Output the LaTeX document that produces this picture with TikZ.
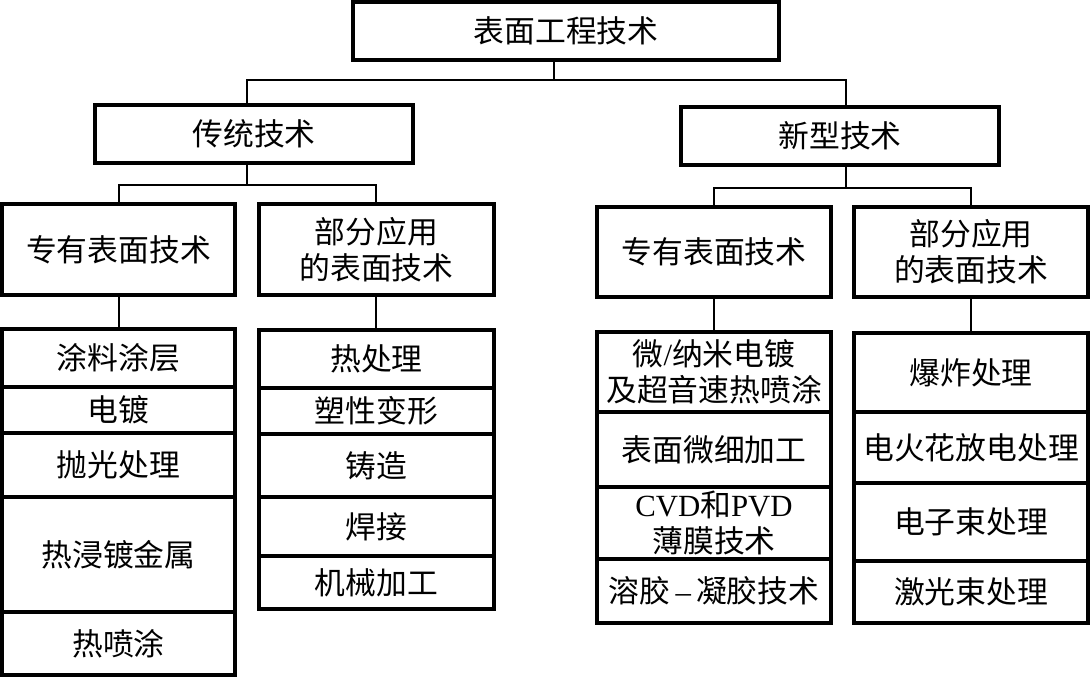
\documentclass[tikz,border=0pt]{standalone}
\usepackage{fontspec}
\setmainfont{Noto Sans CJK SC}
\newfontfamily\lat{Liberation Serif}
\begin{document}
\begin{tikzpicture}[x=1pt,y=-1pt,
  box/.style={draw, line width=3.2pt, inner sep=0pt, align=center,
    font=\fontsize{30.8}{36}\selectfont},
  conn/.style={line width=1.5pt}]
\useasboundingbox (0,0) rectangle (1090,677);
% level 0 and 1
\node[box, minimum width=426pt, minimum height=58pt] (T) at (566,31) {表面工程技术};
\node[box, minimum width=318pt, minimum height=58pt] (A) at (254,134) {传统技术};
\node[box, minimum width=318pt, minimum height=58pt] (B) at (840,136) {新型技术};
% level 2
\node[box, minimum width=233pt, minimum height=91pt] (A1) at (118.5,249.5) {专有表面技术};
\node[box, minimum width=235pt, minimum height=91pt] (A2) at (376.5,249.5) {部分应用\\的表面技术};
\node[box, minimum width=234pt, minimum height=90pt] (B1) at (714,252) {专有表面技术};
\node[box, minimum width=234pt, minimum height=90pt] (B2) at (971,252) {部分应用\\的表面技术};
% column A1 (x 2-235)
\node[box, minimum width=233pt, minimum height=58pt]  (a1) at (118.5,358)   {涂料涂层};
\node[box, minimum width=233pt, minimum height=46pt]  (a2) at (118.5,410)   {电镀};
\node[box, minimum width=233pt, minimum height=64pt]  (a3) at (118.5,465)   {抛光处理};
\node[box, minimum width=233pt, minimum height=115pt] (a4) at (118.5,554.5) {热浸镀金属};
\node[box, minimum width=233pt, minimum height=63pt]  (a5) at (118.5,643.5) {热喷涂};
% column A2 (x 259-494)
\node[box, minimum width=235pt, minimum height=58pt] (b1) at (376.5,359)   {热处理};
\node[box, minimum width=235pt, minimum height=46pt] (b2) at (376.5,411)   {塑性变形};
\node[box, minimum width=235pt, minimum height=63pt] (b3) at (376.5,465.5) {铸造};
\node[box, minimum width=235pt, minimum height=59pt] (b4) at (376.5,526.5) {焊接};
\node[box, minimum width=235pt, minimum height=53pt] (b5) at (376.5,582.5) {机械加工};
% column B1 (x 597-831)
\node[box, minimum width=234pt, minimum height=80pt] (c1) at (714,372)   {微{\lat /}纳米电镀\\及超音速热喷涂};
\node[box, minimum width=234pt, minimum height=75pt] (c2) at (714,449.5) {表面微细加工};
\node[box, minimum width=234pt, minimum height=72pt] (c3) at (714,523)   {{\lat CVD}和{\lat PVD}\\薄膜技术};
\node[box, minimum width=234pt, minimum height=64pt] (c4) at (714,591)   {溶胶{\lat\,–\,}凝胶技术};
% column B2 (x 854-1088)
\node[box, minimum width=234pt, minimum height=79pt] (d1) at (971,372.5) {爆炸处理};
\node[box, minimum width=234pt, minimum height=71pt] (d2) at (971,447.5) {电火花放电处理};
\node[box, minimum width=234pt, minimum height=78pt] (d3) at (971,522)   {电子束处理};
\node[box, minimum width=234pt, minimum height=62pt] (d4) at (971,592)   {激光束处理};
% connectors
\coordinate (j0) at (554,80);
\coordinate (ja) at (247,80);
\coordinate (jb) at (846,80);
\draw[conn] (j0 |- T.south) -- (j0);
\draw[conn] (ja |- A.north) -- (ja) -- (jb) -- (jb |- B.north);
\coordinate (ka) at (247,185);
\coordinate (ka1) at (119,185);
\coordinate (ka2) at (376,185);
\draw[conn] (ka |- A.south) -- (ka);
\draw[conn] (ka1 |- A1.north) -- (ka1) -- (ka2) -- (ka2 |- A2.north);
\coordinate (kb) at (846,188);
\coordinate (kb1) at (714,188);
\coordinate (kb2) at (971,188);
\draw[conn] (kb |- B.south) -- (kb);
\draw[conn] (kb1 |- B1.north) -- (kb1) -- (kb2) -- (kb2 |- B2.north);
\draw[conn] (ka1 |- A1.south) -- (ka1 |- a1.north);
\draw[conn] (ka2 |- A2.south) -- (ka2 |- b1.north);
\draw[conn] (kb1 |- B1.south) -- (kb1 |- c1.north);
\draw[conn] (kb2 |- B2.south) -- (kb2 |- d1.north);
\end{tikzpicture}
\end{document}
